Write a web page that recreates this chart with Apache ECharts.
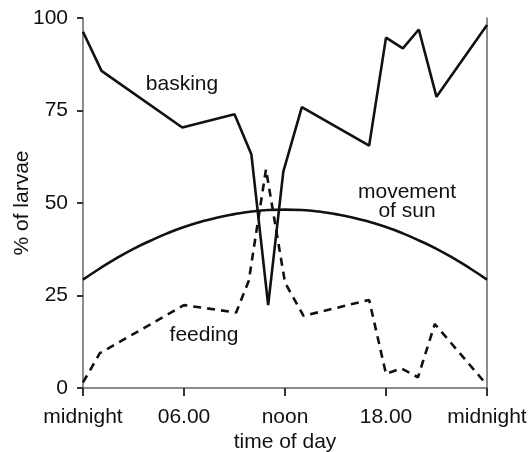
<!DOCTYPE html>
<html>
<head>
<meta charset="utf-8">
<script src="https://cdn.jsdelivr.net/npm/echarts@6/dist/echarts.min.js"></script>
<style>
  html, body { margin: 0; padding: 0; background: #fff; }
  #chart { width: 531px; height: 452px; }
</style>
</head>
<body>
<div id="chart"></div>
<script>
// hours since midnight
const tickLabels = ['midnight', '06.00', 'noon', '18.00', 'midnight'];

const baskingHours = [0, 1.1, 5.9, 9.0, 10.0, 11.0, 11.9, 13.0, 17.0, 18.0, 19.0, 19.95, 21.0, 24];
const baskingPct   = [96.3, 85.7, 70.4, 74.0, 63.2, 22.4, 58.5, 75.9, 65.5, 94.7, 91.8, 96.9, 78.7, 98.1];

const feedingHours = [0, 1.0, 6.0, 9.1, 9.85, 10.87, 12.0, 13.1, 17.0, 18.0, 18.9, 19.9, 20.9, 24];
const feedingPct   = [1.5, 9.4, 22.4, 20.4, 29.0, 59.1, 28.5, 19.5, 23.8, 3.8, 5.3, 2.9, 17.3, 0.8];

// movement of sun, read hourly
const sunHours = [0, 1, 2, 3, 4, 5, 6, 7, 8, 9, 10, 11, 12, 13, 14, 15, 16, 17, 18, 19, 20, 21, 22, 23, 24];
const sunPct   = [29.3, 32.3, 35.1, 37.6, 39.8, 41.8, 43.5, 44.9, 46.1, 47.0, 47.7, 48.1, 48.2, 48.1, 47.7, 47.0, 46.1, 44.9, 43.5, 41.8, 39.8, 37.6, 35.1, 32.3, 29.3];

const pairs = (xs, ys) => xs.map((x, i) => [x, ys[i]]);

const font = 'Liberation Sans, Arial, sans-serif';
const ink = '#111';

const chart = echarts.init(document.getElementById('chart'));
chart.setOption({
  animation: false,
  grid: { left: 83, right: 44, top: 18, bottom: 64, containLabel: false, outerBoundsMode: 'none' },
  xAxis: {
    type: 'value',
    min: 0, max: 24, interval: 6,
    name: 'time of day',
    nameLocation: 'middle',
    nameGap: 44,
    nameMoveOverlap: false,
    nameTextStyle: { color: ink, fontSize: 21, fontFamily: font },
    axisLine: { lineStyle: { color: '#666', width: 1.5 } },
    axisTick: { show: true, length: 8, lineStyle: { color: '#333', width: 2 } },
    axisLabel: {
      margin: 19, color: ink, fontSize: 21, fontFamily: font,
      formatter: v => tickLabels[v / 6]
    },
    splitLine: { show: false }
  },
  yAxis: [{
    type: 'value',
    min: 0, max: 100, interval: 25,
    name: '% of larvae',
    nameLocation: 'middle',
    nameGap: 50,
    nameMoveOverlap: false,
    nameTextStyle: { color: ink, fontSize: 21, fontFamily: font },
    axisLine: { show: true, lineStyle: { color: '#666', width: 1.5 } },
    axisTick: { show: true, length: 6, lineStyle: { color: '#333', width: 2 } },
    axisLabel: { margin: 15, color: ink, fontSize: 21, fontFamily: font },
    splitLine: { show: false }
  }, {
    type: 'value',
    min: 0, max: 100,
    position: 'right',
    axisLine: { show: true, lineStyle: { color: '#666', width: 1.5 } },
    axisTick: { show: false },
    axisLabel: { show: false },
    splitLine: { show: false }
  }],
  series: [
    {
      name: 'basking', type: 'line', data: pairs(baskingHours, baskingPct),
      showSymbol: false, lineStyle: { color: '#111', width: 2.6 }
    },
    {
      name: 'feeding', type: 'line', data: pairs(feedingHours, feedingPct),
      showSymbol: false, lineStyle: { color: '#111', width: 2.6, type: [8, 6] }
    },
    {
      name: 'movement of sun', type: 'line', data: pairs(sunHours, sunPct),
      showSymbol: false, smooth: true, lineStyle: { color: '#111', width: 2.6 }
    }
  ],
  graphic: [
    { type: 'text', x: 182, y: 84, style: { text: 'basking', fill: ink, font: '21px ' + font, align: 'center', verticalAlign: 'middle' } },
    { type: 'text', x: 204, y: 335, style: { text: 'feeding', fill: ink, font: '21px ' + font, align: 'center', verticalAlign: 'middle' } },
    { type: 'text', x: 407, y: 192, style: { text: 'movement', fill: ink, font: '21px ' + font, align: 'center', verticalAlign: 'middle' } },
    { type: 'text', x: 407, y: 211, style: { text: 'of sun', fill: ink, font: '21px ' + font, align: 'center', verticalAlign: 'middle' } }
  ]
});
</script>
</body>
</html>
